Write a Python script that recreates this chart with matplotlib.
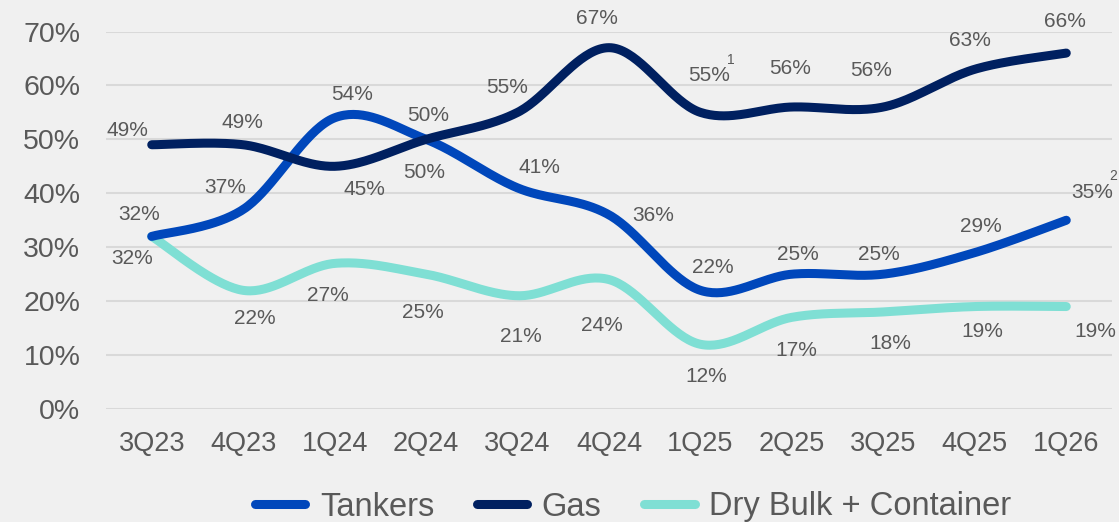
import numpy as np
import matplotlib
matplotlib.use("Agg")
import matplotlib.pyplot as plt
from matplotlib.lines import Line2D

categories = ["3Q23", "4Q23", "1Q24", "2Q24", "3Q24", "4Q24", "1Q25", "2Q25", "3Q25", "4Q25", "1Q26"]
tankers = [32, 37, 54, 50, 41, 36, 22, 25, 25, 29, 35]
gas = [49, 49, 45, 50, 55, 67, 55, 56, 56, 63, 66]
dry_bulk = [32, 22, 27, 25, 21, 24, 12, 17, 18, 19, 19]
yticks = [0, 10, 20, 30, 40, 50, 60, 70]

# label offsets in pixels (dx, dy up)
tank_off = [(-13, 22), (-18, 22), (17, 23), (2, 24), (22, 20), (44, -1), (12, 23), (6, 20), (-4, 20), (6, 26), (26, 28)]
gas_off = [(-24, 14), (-1, 22), (30, -23), (-2, -33), (-10, 25), (-12, 29), (9, 37), (-2, 39), (-12, 36), (-5, 29), (-1, 32)]
dry_off = [(-20, -22), (12, -28), (-7, -32), (-3, -38), (3, -41), (-7, -46), (6, -32), (4, -33), (7, -32), (7, -25), (29, -25)]

C_TANK = "#0047BB"
C_GAS = "#002060"
C_DRY = "#7FDFD4"
TXT = "#595959"
BG = "#F0F0F0"

plt.rcParams["font.family"] = ["Liberation Sans", "DejaVu Sans"]


def smooth(xs, ys, n=40):
    xs = np.asarray(xs, float)
    ys = np.asarray(ys, float)
    P = np.column_stack([xs, ys])
    out = []
    m = len(P)
    for i in range(m - 1):
        p0 = P[i - 1] if i > 0 else P[i]
        p1 = P[i]
        p2 = P[i + 1]
        p3 = P[i + 2] if i + 2 < m else P[i + 1]
        c1 = p1 + (p2 - p0) / 6.0
        c2 = p2 - (p3 - p1) / 6.0
        t = np.linspace(0, 1, n)[:, None]
        seg = ((1 - t) ** 3) * p1 + 3 * ((1 - t) ** 2) * t * c1 + 3 * (1 - t) * t ** 2 * c2 + t ** 3 * p2
        if i > 0:
            seg = seg[1:]
        out.append(seg)
    arr = np.vstack(out)
    return arr[:, 0], arr[:, 1]


fig = plt.figure(figsize=(11.19, 5.22), dpi=100, facecolor=BG)
ax = fig.add_axes([106 / 1119, 1 - 409 / 522, (1112 - 106) / 1119, (409 - 31.5) / 522])
ax.set_facecolor(BG)

x = np.arange(len(categories))
lw = 6.5
for vals, col, offs in [(dry_bulk, C_DRY, dry_off), (tankers, C_TANK, tank_off), (gas, C_GAS, gas_off)]:
    sx, sy = smooth(x, vals)
    ax.plot(sx, sy, color=col, lw=lw, solid_capstyle="round", solid_joinstyle="round", zorder=3)
    for xi, v, (dx, dy) in zip(x, vals, offs):
        ax.annotate(f"{v}%", (xi, v), xytext=(dx, dy), textcoords="offset pixels",
                    ha="center", va="center", fontsize=15, color=TXT, zorder=4)

# superscripts
ax.annotate("1", (6, gas[6]), xytext=(30, 52), textcoords="offset pixels",
            ha="center", va="center", fontsize=10, color=TXT)
ax.annotate("2", (10, tankers[10]), xytext=(47, 44), textcoords="offset pixels",
            ha="center", va="center", fontsize=10, color=TXT, annotation_clip=False)

ax.set_xlim(-0.5, len(categories) - 0.5)
ax.set_ylim(0, 70)
ax.set_yticks(yticks)
ax.set_yticklabels([f"{t}%" for t in yticks])
ax.set_xticks(x)
ax.set_xticklabels(categories)
ax.tick_params(axis="y", length=0, pad=18.5, labelsize=20.5, colors=TXT)
ax.tick_params(axis="x", length=0, pad=15.5, labelsize=19.5, colors=TXT)
ax.grid(axis="y", color="#D9D9D9", lw=1.5, zorder=0)
ax.set_axisbelow(True)
for s in ax.spines.values():
    s.set_visible(False)

handles = [Line2D([], [], color=C_TANK, lw=lw, solid_capstyle="round"),
           Line2D([], [], color=C_GAS, lw=lw, solid_capstyle="round"),
           Line2D([], [], color=C_DRY, lw=lw, solid_capstyle="round")]
leg = fig.legend(handles, ["Tankers", "Gas", "Dry Bulk + Container"], loc="center",
                 bbox_to_anchor=(633 / 1119, 1 - 507 / 522), ncol=3, frameon=False,
                 fontsize=23.5, handlelength=1.55, handletextpad=0.45, columnspacing=1.3,
                 labelcolor=TXT, borderpad=0)

fig.savefig("out.png", dpi=100, facecolor=BG)
